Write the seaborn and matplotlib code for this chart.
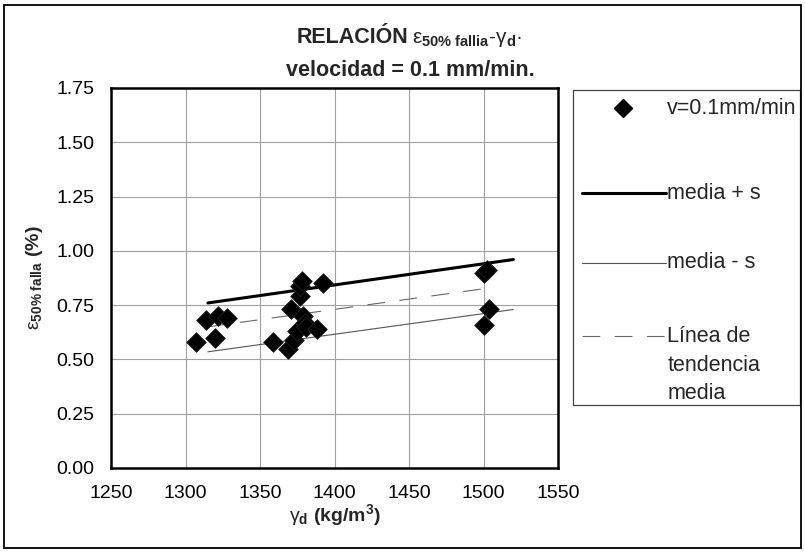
import matplotlib
matplotlib.use("Agg")
import matplotlib.pyplot as plt
from matplotlib.lines import Line2D
from matplotlib.patches import Rectangle
import seaborn as sns
import pandas as pd

# Ensayos a v = 0.1 mm/min: densidad seca y deformación al 50% de falla
gamma_d = [1307, 1314, 1320, 1322, 1328, 1359, 1369, 1371, 1373, 1375, 1377,
           1377, 1378, 1379, 1380, 1381, 1388, 1392, 1500, 1502, 1504, 1500]
eps50 = [0.58, 0.68, 0.60, 0.70, 0.69, 0.58, 0.55, 0.73, 0.59, 0.63, 0.79,
         0.84, 0.86, 0.70, 0.67, 0.65, 0.64, 0.85, 0.90, 0.91, 0.73, 0.66]

# Rectas: media + s, media - s y tendencia media
plus_x, plus_y = [1315, 1520], [0.76, 0.96]
minus_x, minus_y = [1315, 1520], [0.535, 0.73]
trend_x, trend_y = [1315, 1505], [0.65, 0.83]

x_ticks = [1250, 1300, 1350, 1400, 1450, 1500, 1550]
y_ticks = [0.00, 0.25, 0.50, 0.75, 1.00, 1.25, 1.50, 1.75]

sns.set_style("white")
plt.rcParams["font.family"] = ["Liberation Sans", "DejaVu Sans"]
plt.rcParams["mathtext.fontset"] = "custom"
plt.rcParams["mathtext.rm"] = "Liberation Sans"
plt.rcParams["mathtext.it"] = "Liberation Sans:italic"
plt.rcParams["mathtext.bf"] = "Liberation Sans:bold"

DASH = (0, (16, 13))

fig = plt.figure(figsize=(8.05, 5.52), dpi=100)
ax = fig.add_axes([0.1379, 0.1522, 0.5553, 0.6884])

df = pd.DataFrame({"gamma_d": gamma_d, "eps50": eps50})
sns.scatterplot(data=df, x="gamma_d", y="eps50", marker="D", s=100,
                color="black", edgecolor="#222222", linewidth=0.6,
                ax=ax, zorder=4, legend=False)
sns.lineplot(x=plus_x, y=plus_y, color="black", linewidth=2.2, ax=ax, zorder=3)
sns.lineplot(x=minus_x, y=minus_y, color="#555555", linewidth=0.8, ax=ax, zorder=3)
sns.lineplot(x=trend_x, y=trend_y, color="#666666", linewidth=0.8,
             linestyle=DASH, ax=ax, zorder=3)

ax.set_xlim(1250, 1550)
ax.set_ylim(0, 1.75)
ax.set_xticks(x_ticks)
ax.set_yticks(y_ticks)
ax.set_yticklabels([f"{v:.2f}" for v in y_ticks])
ax.grid(True, color="#a0a0a0", linewidth=0.8)
ax.set_axisbelow(True)
ax.tick_params(axis="both", direction="out", length=5, width=1,
               labelsize=14, colors="black", pad=7)
for sp in ax.spines.values():
    sp.set_color("black")
    sp.set_linewidth(1.8)

ax.set_xlabel(r"$\mathrm{γ}_{\mathbf{d}}$ (kg/m$^{\mathbf{3}}$)", fontsize=14,
              fontweight="bold", labelpad=0)
ax.set_ylabel(r"$\mathrm{ε}_{\mathbf{50\%\ falla}}$ (%)", fontsize=14,
              fontweight="bold", labelpad=8)

# Título
fig.text(0.507, 0.922, "RELACIÓN", ha="right", va="baseline",
         fontsize=15.5, fontweight="bold")
fig.text(0.512, 0.922, r"$\mathrm{ε}_{\mathbf{50\%\ fallia}}$-$\mathrm{γ}_{\mathbf{d}}$·",
         ha="left", va="baseline", fontsize=15)
fig.text(0.510, 0.862, "velocidad = 0.1 mm/min.", ha="center", va="baseline",
         fontsize=15.5, fontweight="bold")

# Leyenda
fig.add_artist(Rectangle((0.712, 0.266), 0.282, 0.571, transform=fig.transFigure,
                         fill=False, edgecolor="#444444", linewidth=0.9))
lx0, lx1, tx = 0.723, 0.827, 0.829
fs = 15.5
fig.add_artist(Line2D([0.774], [0.804], marker="D", markersize=9.5, color="black",
                      transform=fig.transFigure))
fig.text(tx, 0.804, "v=0.1mm/min", ha="left", va="center", fontsize=fs)
fig.add_artist(Line2D([lx0, lx1], [0.650, 0.650], color="black", linewidth=2.2,
                      transform=fig.transFigure))
fig.text(tx, 0.650, "media + s", ha="left", va="center", fontsize=fs)
fig.add_artist(Line2D([lx0, lx1], [0.524, 0.524], color="#555555", linewidth=0.8,
                      transform=fig.transFigure))
fig.text(tx, 0.524, "media - s", ha="left", va="center", fontsize=fs)
fig.add_artist(Line2D([lx0, lx1], [0.391, 0.391], color="#666666", linewidth=0.8,
                      linestyle=DASH, transform=fig.transFigure))
fig.text(tx, 0.391, "Línea de", ha="left", va="center", fontsize=fs)
fig.text(tx, 0.337, "tendencia", ha="left", va="center", fontsize=fs)
fig.text(tx, 0.287, "media", ha="left", va="center", fontsize=fs)

# Marco exterior
fig.add_artist(Rectangle((0.005, 0.007), 0.99, 0.984, transform=fig.transFigure,
                         fill=False, edgecolor="black", linewidth=1.3))

fig.savefig("out.png", dpi=100, facecolor="white")
